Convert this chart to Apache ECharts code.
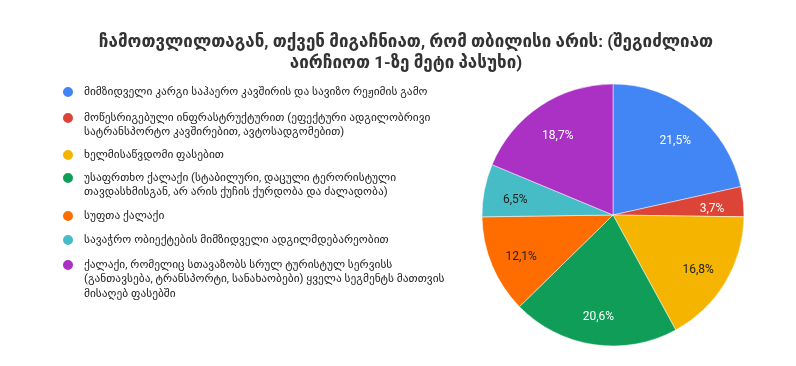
<!DOCTYPE html>
<html><head><meta charset="utf-8">
<script src="https://cdn.jsdelivr.net/npm/echarts@6/dist/echarts.min.js"></script>
<style>html,body{margin:0;padding:0;background:#fff}#c{width:796px;height:366px}</style>
</head><body><div id="c"></div>
<script>
const titleText = 'ჩამოთვლილთაგან, თქვენ მიგაჩნიათ, რომ თბილისი არის: (შეგიძლიათ\nაირჩიოთ 1-ზე მეტი პასუხი)';
const categories = [
  'მიმზიდველი კარგი საჰაერო კავშირის და სავიზო რეჟიმის გამო',
  'მოწესრიგებული ინფრასტრუქტურით (ეფექტური ადგილობრივი სატრანსპორტო კავშირებით, ავტოსადგომებით)',
  'ხელმისაწვდომი ფასებით',
  'უსაფრთხო ქალაქი (სტაბილური, დაცული ტერორისტული თავდასხმისგან, არ არის ქუჩის ქურდობა და ძალადობა)',
  'სუფთა ქალაქი',
  'სავაჭრო ობიექტების მიმზიდველი ადგილმდებარეობით',
  'ქალაქი, რომელიც სთავაზობს სრულ ტურისტულ სერვისს (განთავსება, ტრანსპორტი, სანახაობები) ყველა სეგმენტს მათთვის მისაღებ ფასებში'
];
const legendLabels = [
  'მიმზიდველი კარგი საჰაერო კავშირის და სავიზო რეჟიმის გამო',
  'მოწესრიგებული ინფრასტრუქტურით (ეფექტური ადგილობრივი\nსატრანსპორტო კავშირებით, ავტოსადგომებით)',
  'ხელმისაწვდომი ფასებით',
  'უსაფრთხო ქალაქი (სტაბილური, დაცული ტერორისტული\nთავდასხმისგან, არ არის ქუჩის ქურდობა და ძალადობა)',
  'სუფთა ქალაქი',
  'სავაჭრო ობიექტების მიმზიდველი ადგილმდებარეობით',
  'ქალაქი, რომელიც სთავაზობს სრულ ტურისტულ სერვისს\n(განთავსება, ტრანსპორტი, სანახაობები) ყველა სეგმენტს მათთვის\nმისაღებ ფასებში'
];
const values = [21.5, 3.7, 16.8, 20.6, 12.1, 6.5, 18.7];
const colors = ['#4285F4', '#DB4437', '#F4B400', '#0F9D58', '#FF6D00', '#46BDC6', '#AB30C4'];
const labelColors = ['#ffffff', '#ffffff', '#222222', '#ffffff', '#222222', '#222222', '#ffffff'];
const legendIconY = [92, 118, 155, 178, 216, 240, 265];

const FONT = 'Roboto, "DejaVu Sans", sans-serif';
const LH = 14.5;
const legends = categories.map((name, i) => {
  const lines = legendLabels[i].split('\n');
  const n = lines.length;
  // prepend blank lines so the first text line sits level with the icon
  const shown = new Array(n - 1).fill('').concat(lines).join('\n');
  const blockH = (2 * n - 1) * LH;
  return {
    show: true,
    orient: 'vertical',
    left: 61,
    top: legendIconY[i] - blockH / 2,
    padding: 0,
    icon: 'circle',
    itemWidth: 22,
    itemHeight: 12,
    symbolKeepAspect: true,
    selectedMode: false,
    data: [name],
    formatter: () => shown,
    textStyle: { fontFamily: FONT, fontSize: 11.4, color: '#222', lineHeight: LH }
  };
});

const pieData = categories.map((name, i) => ({
  name: name, value: values[i], itemStyle: { color: colors[i] }
}));
const labelData = categories.map((name, i) => ({
  name: name, value: values[i],
  label: { color: labelColors[i] }
}));

const chart = echarts.init(document.getElementById('c'), null, { renderer: 'canvas' });
chart.setOption({
  backgroundColor: '#fff',
  animation: false,
  color: colors,
  title: {
    text: titleText,
    left: 406,
    textAlign: 'center',
    top: 32,
    padding: 0,
    textStyle: { fontFamily: FONT, fontSize: 17, fontWeight: 'bold', color: '#333', lineHeight: 21 }
  },
  legend: legends,
  series: [
    {
      type: 'pie',
      center: [613, 215],
      radius: [0, 131],
      startAngle: 90,
      clockwise: true,
      silent: true,
      label: { show: false },
      labelLine: { show: false },
      itemStyle: { borderColor: '#fff', borderWidth: 0.5 },
      data: pieData
    },
    {
      type: 'pie',
      center: [613, 215],
      radius: [62, 131],
      startAngle: 90,
      clockwise: true,
      silent: true,
      itemStyle: { color: 'transparent' },
      label: {
        show: true,
        position: 'inside',
        offset: [0, 4],
        fontFamily: FONT,
        fontSize: 12,
        formatter: p => String(p.value).replace('.', ',') + '%'
      },
      labelLine: { show: false },
      data: labelData
    }
  ]
});
</script></body></html>
